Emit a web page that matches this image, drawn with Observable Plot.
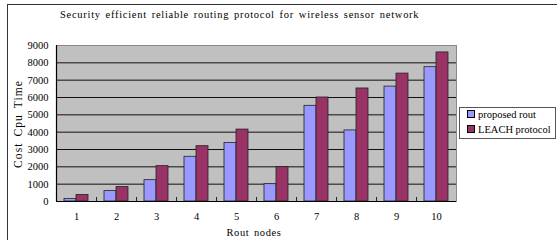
<!DOCTYPE html>
<html>
<head>
<meta charset="utf-8">
<script src="https://cdn.jsdelivr.net/npm/d3@7"></script>
<script src="https://cdn.jsdelivr.net/npm/@observablehq/plot@0.6"></script>
<style>
  html, body { margin: 0; padding: 0; background: #fff; }
  #wrap { position: relative; width: 557px; height: 240px; overflow: hidden; }
  #border { position: absolute; left: 7px; top: 4px; width: 600px; height: 300px;
            border-left: 1px solid #333; border-top: 1px solid #333; }
  #chart { position: absolute; left: 0; top: 0; }
  .lbl { font-family: "Liberation Serif", serif; color: #000; white-space: nowrap; position: absolute; }
  #title { left: 60px; top: 9px; font-size: 10.5px; letter-spacing: 0.72px; word-spacing: 1.5px; line-height: 12px; }
  #ylabel { left: 18px; top: 124px; font-size: 11.5px; letter-spacing: 1.1px; word-spacing: 2px; line-height: 12px;
            transform: translate(-50%, -50%) rotate(-90deg); }
  #xlabel { left: 254px; top: 233px; font-size: 10.5px; letter-spacing: 0.6px; word-spacing: 1.5px; line-height: 12px;
            transform: translate(-50%, -50%); }
  #legend { position: absolute; left: 459px; top: 107px; width: 95px; height: 30px;
            border: 1px solid #555; background: #fff; font-family: "Liberation Serif", serif; font-size: 10.5px; }
  .item { position: absolute; left: 7px; white-space: nowrap; line-height: 12px; }
  .sw { display: inline-block; width: 6px; height: 6px; border: 1px solid #000; margin-right: 3px; vertical-align: 0px; }
</style>
</head>
<body>
<div id="wrap">
  <div id="border"></div>
  <div id="chart"></div>
  <div id="title" class="lbl"></div>
  <div id="ylabel" class="lbl"></div>
  <div id="xlabel" class="lbl"></div>
  <div id="legend"></div>
</div>
<script>
const titleText = "Security efficient reliable routing protocol for wireless sensor network";
const yLabelText = "Cost Cpu Time";
const xLabelText = "Rout nodes";
const nodes = [1, 2, 3, 4, 5, 6, 7, 8, 9, 10];
const seriesNames = ["proposed rout", "LEACH protocol"];
const proposed = [150, 600, 1230, 2580, 3380, 1000, 5520, 4100, 6630, 7750];
const leach = [380, 830, 2040, 3190, 4150, 1980, 6000, 6520, 7380, 8600];
const yTicks = [0, 1000, 2000, 3000, 4000, 5000, 6000, 7000, 8000, 9000];
const colors = ["#9999ff", "#993366"];

const rows = [];
nodes.forEach((n, i) => {
  rows.push({node: n, series: seriesNames[0], value: proposed[i], k: 0});
  rows.push({node: n, series: seriesNames[1], value: leach[i], k: 1});
});
const half = 0.3;
const boundaries = nodes.slice(0, -1).map(n => n + 0.5);

const chart = Plot.plot({
  width: 557,
  height: 240,
  marginLeft: 56,
  marginRight: 101,
  marginTop: 45,
  marginBottom: 39,
  style: {fontFamily: "Liberation Serif, serif", fontSize: "10.5px", background: "transparent", color: "#000"},
  x: {domain: [0.5, 10.5], axis: null},
  y: {domain: [0, 9000], axis: null},
  color: {domain: seriesNames, range: colors},
  marks: [
    Plot.frame({fill: "#c0c0c0", stroke: "#8a8a8a"}),
    Plot.ruleY(yTicks.filter(t => t > 0 && t < 9000), {stroke: "#111", strokeWidth: 1}),
    Plot.rect(rows, {
      x1: d => d.node - half + d.k * half,
      x2: d => d.node + d.k * half,
      y1: 0,
      y2: "value",
      fill: "series",
      stroke: "#222",
      strokeWidth: 0.8
    }),
    Plot.ruleY([0], {stroke: "#000", strokeWidth: 1.2}),
    Plot.ruleX([0.5], {stroke: "#000", strokeWidth: 1.2}),
    Plot.axisX(boundaries, {tickSize: -4, tickFormat: () => "", label: null, stroke: "#222"}),
    Plot.axisX(nodes, {tickSize: 0, tickPadding: 11, label: null, fontSize: 10.5}),
    Plot.axisY(yTicks, {tickSize: 0, tickPadding: 8, label: null, fontSize: 10.5, tickFormat: d3.format("d")})
  ]
});
document.getElementById("chart").appendChild(chart);

document.getElementById("title").textContent = titleText;
document.getElementById("ylabel").textContent = yLabelText;
document.getElementById("xlabel").textContent = xLabelText;

const legend = document.getElementById("legend");
seriesNames.forEach((name, i) => {
  const item = document.createElement("div");
  item.className = "item";
  item.style.top = (1 + i * 15) + "px";
  const sw = document.createElement("span");
  sw.className = "sw";
  sw.style.background = colors[i];
  item.appendChild(sw);
  item.appendChild(document.createTextNode(name));
  legend.appendChild(item);
});
</script>
</body>
</html>
